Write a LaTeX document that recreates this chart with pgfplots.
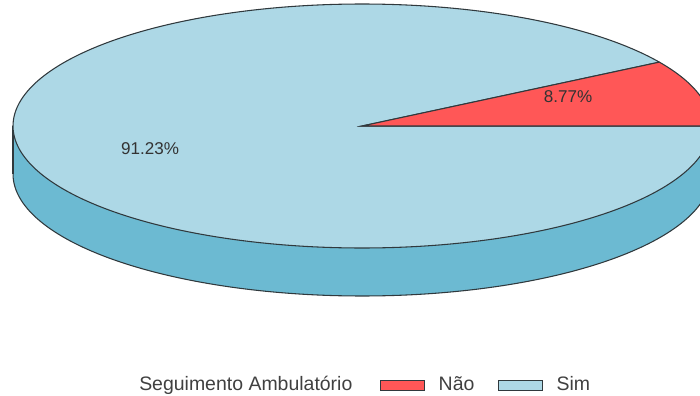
\documentclass[border=0pt]{standalone}
\usepackage{fontspec}
\setmainfont{Liberation Sans}
\usepackage{pgfplots}
\pgfplotsset{compat=1.18}
\definecolor{topblue}{HTML}{ADD8E6}
\definecolor{sideblue}{HTML}{6CBAD2}
\definecolor{pred}{HTML}{FF5757}
\definecolor{edge}{HTML}{30393D}
% data (percent)
\def\pNao{8.77}
\def\pSim{91.23}
\pgfmathsetmacro\aNao{3.6*\pNao}
% geometry in pixel units
\def\cx{362}\def\cy{126}\def\rx{349}\def\ry{122}\def\dep{48}
\begin{document}
\begin{tikzpicture}
\begin{axis}[
  width=525pt,height=297pt,scale only axis,
  xmin=0,xmax=700,ymin=0,ymax=396,y dir=reverse,
  hide axis, clip=true,
  legend style={draw=none,fill=none,inner sep=0pt,
    at={(125/700,1-383/396)},anchor=west,
    font=\fontsize{14.6}{16}\selectfont,
    nodes={inner sep=0pt},
    /tikz/every odd column/.append style={column sep=10.5pt},
    /tikz/every even column/.append style={column sep=17.6pt}},
  legend columns=-1,
]
% side of the cylinder
\addplot[fill=sideblue,draw=edge,line width=0.8pt,domain=0:360,samples=300,variable=\t,forget plot]
  ({\cx+\rx*cos(t)},{\cy+\dep-\ry*sin(t)}) -- cycle;
\addplot[fill=sideblue,draw=none,forget plot] coordinates {(13,\cy) (711,\cy) (711,\cy+\dep) (13,\cy+\dep)} -- cycle;
\addplot[draw=edge,line width=0.8pt,forget plot] coordinates {(13,\cy) (13,\cy+\dep)};
\addplot[draw=edge,line width=0.8pt,forget plot] coordinates {(711,\cy) (711,\cy+\dep)};
% top: Sim slice
\addplot[fill=topblue,draw=edge,line width=0.8pt,domain=\aNao:360,samples=300,variable=\t,forget plot]
  ({\cx+\rx*cos(t)},{\cy-\ry*sin(t)}) -- (axis cs:\cx,\cy) -- cycle;
% top: Nao slice
\addplot[fill=pred,draw=edge,line width=0.8pt,domain=0:\aNao,samples=60,variable=\t,forget plot]
  ({\cx+\rx*cos(t)},{\cy-\ry*sin(t)}) -- (axis cs:\cx,\cy) -- cycle;
% labels
\node[font=\fontsize{12.8}{15}\selectfont,text=black!80] at (axis cs:568,97) {8.77\%};
\node[font=\fontsize{12.8}{15}\selectfont,text=black!80] at (axis cs:150,149) {91.23\%};
% legend
\addlegendimage{empty legend}
\addlegendentry{\vphantom{Ãg}\textcolor{black!75}{Seguimento Ambulatório}\rule{3pt}{0pt}}
\addlegendimage{legend image code/.code={\draw[fill=pred,draw=edge,line width=0.6pt] (0pt,-5.2pt) rectangle (33pt,1.6pt);}}
\addlegendentry{\vphantom{Ãg}\textcolor{black!75}{Não}}
\addlegendimage{legend image code/.code={\draw[fill=topblue,draw=edge,line width=0.6pt] (0pt,-5.2pt) rectangle (33pt,1.6pt);}}
\addlegendentry{\vphantom{Ãg}\textcolor{black!75}{Sim}}
\end{axis}
\pgfresetboundingbox
\path (0,0) rectangle (525pt,297pt);
\end{tikzpicture}
\end{document}
